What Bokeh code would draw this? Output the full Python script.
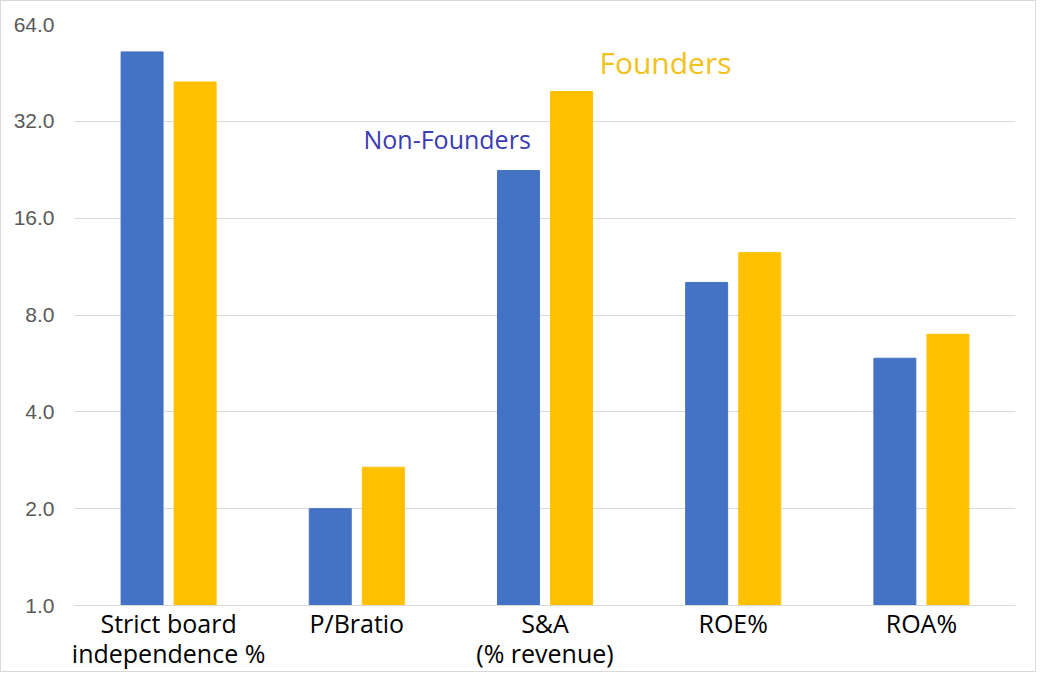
from bokeh.plotting import figure
from bokeh.models import FactorRange, FixedTicker, PrintfTickFormatter, Label
from bokeh.transform import dodge
from bokeh.embed import file_html
from bokeh.resources import INLINE

# Metrics compared (log2 scale)
metrics = ["Strict board\nindependence %", "P/Bratio", "S&A\n(% revenue)", "ROE%", "ROA%"]
non_founders = [52.6, 2.0, 22.5, 10.1, 5.87]
founders = [42.4, 2.69, 39.6, 12.5, 6.97]
y_ticks = [1, 2, 4, 8, 16, 32, 64]

blue = "#4472C4"
gold = "#FFC000"

p = figure(x_range=FactorRange(*metrics), y_range=(1, 64), y_axis_type="log",
           width=1036, height=672, output_backend="svg", toolbar_location=None,
           min_border_left=73, min_border_right=22, min_border_top=23, min_border_bottom=0)
p.styles = {"border": "1px solid #d9d9d9"}

src = dict(metric=metrics, nf=non_founders, f=founders)
p.vbar(x=dodge("metric", -0.141, range=p.x_range), top="nf", bottom=1, width=0.223,
       color=blue, source=src)
p.vbar(x=dodge("metric", 0.141, range=p.x_range), top="f", bottom=1, width=0.223,
       color=gold, source=src)

# hand-written style notes
p.add_layout(Label(x=1.98, y=28.2, text="Non-Founders", text_align="center",
                   text_baseline="middle", text_color="#3b3bb3",
                   text_font="Open Sans", text_font_size="25px"))
p.add_layout(Label(x=3.14, y=48.7, text="Founders", text_align="center",
                   text_baseline="middle", text_color="#F2C21A",
                   text_font="Open Sans", text_font_size="30px"))

# y axis
p.yaxis.ticker = FixedTicker(ticks=y_ticks)
p.yaxis.formatter = PrintfTickFormatter(format="%.1f")
p.yaxis.major_label_text_font = "Liberation Sans"
p.yaxis.major_label_text_font_size = "21px"
p.yaxis.major_label_text_color = "#595959"
p.yaxis.major_label_standoff = 14
p.yaxis.axis_line_color = None
p.yaxis.major_tick_line_color = None
p.yaxis.minor_tick_line_color = None

# x axis
p.xaxis.major_label_text_font = "Open Sans"
p.xaxis.major_label_text_font_size = "25px"
p.xaxis.major_label_text_color = "black"
p.xaxis.major_label_text_line_height = 0.9
p.xaxis.major_label_standoff = 0
p.xaxis.major_tick_out = 0
p.xaxis.axis_line_color = "#d9d9d9"
p.xaxis.major_tick_line_color = None

p.xgrid.grid_line_color = None
p.ygrid.grid_line_color = "#d9d9d9"
p.outline_line_color = None

open("out.html", "w").write(file_html(p, INLINE))
